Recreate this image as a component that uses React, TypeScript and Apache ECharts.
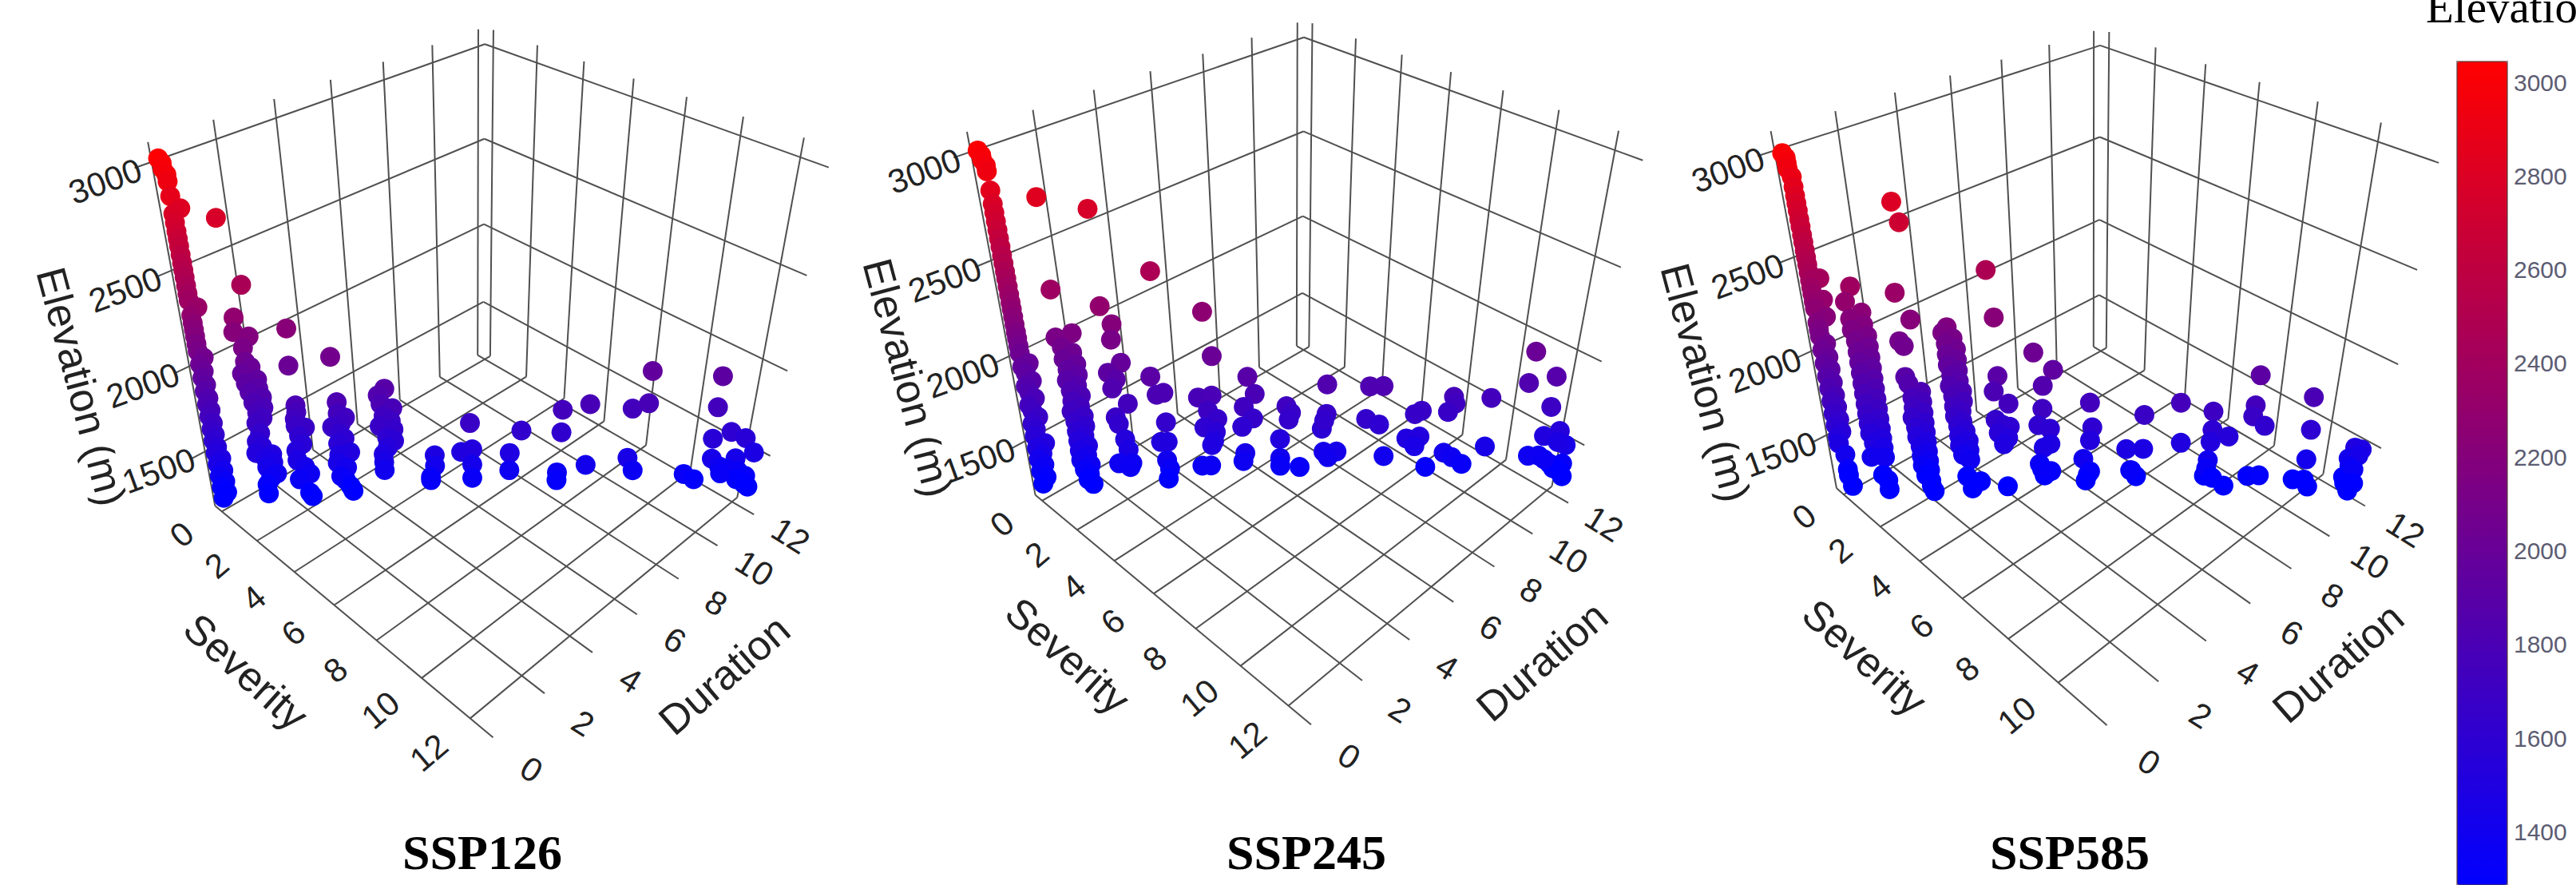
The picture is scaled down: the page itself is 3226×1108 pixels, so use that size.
import React, { useEffect, useRef } from "react";
import * as echarts from "echarts";

type Row = [number, number, number];

const elevationTicks = [1500, 2000, 2500, 3000];
const ssp126SeverityTicks = [0, 2, 4, 6, 8, 10, 12];
const ssp245SeverityTicks = [0, 2, 4, 6, 8, 10, 12];
const ssp585SeverityTicks = [0, 2, 4, 6, 8, 10];
const durationTicks = [0, 2, 4, 6, 8, 10, 12];
const legendTicks = [1400, 1600, 1800, 2000, 2200, 2400, 2600, 2800, 3000];

// [severity, duration, elevation]
const ssp126: Row[] = [
  [0,0,3035],[0.05,0.05,3015],[0.05,0.05,2990],[0.1,0.1,2965],[0.1,0.1,2935],[0.1,0.1,2870],[0.25,0.25,2815],[0.1,0.1,2790],[0.1,0.1,2750],[0.1,0.1,2710],[0.1,0.1,2675],[0.1,0.1,2640],[0.1,0.1,2600],[0.1,0.1,2560],[0.1,0.1,2525],[0.1,0.1,2490],[0.1,0.1,2450],[0.1,0.1,2410],[0.1,0.1,2375],[0.25,0.25,2340],[0.1,0.1,2300],[0.1,0.1,2260],[0.1,0.1,2225],[0.1,0.1,2190],[0.1,0.1,2150],[0.1,0.1,2110],[0.2,0.2,2075],[0.1,0.1,2040],[0.15,0.15,2000],[0.1,0.1,1965],[0.15,0.15,1925],[0.1,0.1,1890],[0.15,0.15,1850],[0.1,0.1,1815],[0.15,0.15,1780],[0.1,0.1,1745],[0.15,0.15,1705],[0.1,0.1,1670],[0.15,0.15,1635],[0.1,0.1,1600],[0.15,0.15,1560],[0.1,0.1,1525],[0.2,0.2,1490],[0.1,0.1,1455],[0.2,0.2,1415],[0.1,0.1,1380],[0.2,0.2,1345],[0.1,0.1,1310],[0.2,0.2,1275],[0.1,0.1,1240],
  [0.9,0.9,2770],
  [1.2,1.2,2450],[0.95,0.95,2285],[0.9,0.9,2210],[1.2,1.2,2185],[1.05,1.05,2125],[1.05,1.05,2050],[1.15,1.15,2020],[0.95,0.95,1985],[1.25,1.25,1950],[1,1,1930],[1.25,1.25,1900],[1.05,1.05,1880],[1.3,1.3,1850],[1.1,1.1,1820],[1.3,1.3,1790],[1.15,1.15,1760],[1.25,1.25,1730],[1.1,1.1,1700],[1.15,1.15,1640],[1.05,1.05,1590],[1.15,1.15,1560],[1,1,1520],[1.35,1.35,1510],[1.2,1.2,1480],[1.35,1.35,1460],[1.2,1.2,1430],[1.4,1.4,1390],[1.25,1.25,1360],[1.15,1.15,1320],[1.15,1.15,1263],
  [2,2,2225],[1.95,1.95,2025],[2,2,1800],[2,2,1760],[1.95,1.95,1720],[2.15,2.15,1670],[1.95,1.95,1680],[2,2,1620],[2.05,2.05,1570],[1.9,1.9,1530],[1.9,1.9,1470],[2.05,2.05,1430],[2.15,2.15,1385],[1.9,1.9,1350],[2.1,2.1,1263],[2.15,2.15,1240],
  [2.85,2.85,2070],[2.9,2.9,1815],[2.9,2.9,1750],[3.05,3.05,1725],[2.95,2.95,1690],[2.75,2.75,1670],[2.9,2.9,1630],[3,3,1600],[2.85,2.85,1570],[3.1,3.1,1515],[2.85,2.85,1500],[2.8,2.8,1450],[3,3,1420],[2.85,2.85,1365],[2.95,2.95,1340],[3.05,3.05,1300],[3.1,3.1,1270],
  [3.95,3.95,1888],[3.8,3.8,1850],[3.85,3.85,1800],[4.1,4.1,1775],[3.9,3.9,1730],[4.05,4.05,1700],[3.8,3.8,1670],[4.1,4.1,1650],[3.95,3.95,1600],[4.1,4.1,1580],[3.95,3.95,1540],[3.85,3.85,1500],[3.85,3.85,1450],[3.85,3.85,1400],
  [5,5,1487],[5,5,1420],[4.9,4.9,1350],[4.9,4.9,1330],
  [5.8,5.8,1680],[5.85,5.85,1520],[5.6,5.6,1505],[5.85,5.85,1425],[5.85,5.85,1340],
  [6.7,6.7,1493],[6.7,6.7,1385],[6.95,6.95,1630],
  [7.85,7.85,1750],[7.85,7.85,1615],[7.8,7.8,1365],[7.8,7.8,1315],
  [8.45,8.45,1780],[8.45,8.45,1410],
  [9.4,9.4,1750],[9.75,9.75,1780],[9.75,9.75,1965],[9.4,9.4,1450],[9.55,9.55,1370],
  [10.75,10.75,1340],[11,11,1305],
  [11.3,11.3,1930],[11.3,11.3,1750],[11.3,11.3,1560],[11.7,11.7,1600],[12.05,12.05,1560],[12.3,12.3,1470],[11.35,11.35,1435],[11.9,11.9,1435],[11.55,11.55,1385],[11.75,11.75,1370],[12,12,1355],[12.2,12.2,1320],[12,12,1300],[12.3,12.3,1250],[11.6,11.6,1340],[12.2,12.2,1270],
];

const ssp245: Row[] = [
  [0,0,3025],[0.05,0.05,3005],[0.05,0.05,2985],[0.1,0.1,2960],[0.1,0.1,2935],[0.1,0.1,2850],[0.1,0.1,2790],[0.1,0.1,2750],[0.1,0.1,2710],[0.1,0.1,2670],[0.1,0.1,2630],[0.1,0.1,2590],[0.1,0.1,2550],[0.1,0.1,2510],[0.1,0.1,2470],[0.1,0.1,2435],[0.1,0.1,2395],[0.1,0.1,2355],[0.1,0.1,2315],[0.1,0.1,2280],[0.1,0.1,2240],[0.1,0.1,2200],[0.1,0.1,2160],[0.1,0.1,2125],[0.1,0.1,2085],[0.1,0.1,2045],[0.25,0.25,1990],[0.1,0.1,1970],[0.15,0.15,1935],[0.25,0.25,1890],[0.1,0.1,1860],[0.15,0.15,1825],[0.25,0.25,1790],[0.1,0.1,1750],[0.15,0.15,1715],[0.25,0.25,1680],[0.1,0.1,1640],[0.15,0.15,1605],[0.1,0.1,1565],[0.3,0.3,1520],[0.1,0.1,1490],[0.2,0.2,1455],[0.1,0.1,1420],[0.2,0.2,1385],[0.1,0.1,1345],[0.2,0.2,1305],[0.1,0.1,1263],
  [0.95,0.95,2378],[0.95,0.95,2820],[1.25,1.25,2150],[0.9,0.9,2128],[1,1,2075],[1.2,1.2,2045],[1,1,2010],[1.25,1.25,1980],[1.05,1.05,1950],[1.25,1.25,1920],[1,1,1890],[1.2,1.2,1860],[1.05,1.05,1830],[1.25,1.25,1800],[1.05,1.05,1770],[1.2,1.2,1740],[1,1,1710],[1.25,1.25,1680],[1.05,1.05,1650],[1.25,1.25,1620],[1.05,1.05,1590],[1.2,1.2,1560],[1.05,1.05,1530],[1.25,1.25,1500],[1.05,1.05,1470],[1.2,1.2,1440],[1.05,1.05,1410],[1.25,1.25,1380],[1.1,1.1,1350],[1.2,1.2,1320],[1.15,1.15,1285],[1.25,1.25,1255],
  [1.9,1.9,2765],[1.9,1.9,2290],[2.1,2.1,2195],[2.05,2.05,2113],[2.2,2.2,1985],[1.9,1.9,1930],[2.05,2.05,1890],[1.95,1.95,1840],[2.25,2.25,1750],[1.95,1.95,1670],[2,2,1630],[2.1,2.1,1535],[2.15,2.15,1470],[1.9,1.9,1385],[2.2,2.2,1385],[2.15,2.15,1360],
  [3,3,2465],[2.8,2.8,1905],[2.9,2.9,1800],[3.05,3.05,1810],[3.05,3.05,1635],[2.9,2.9,1515],[3.05,3.05,1515],[3,3,1400],[3.05,3.05,1345],[3,3,1280],
  [4,4,2255],[4.15,4.15,2015],[3.8,3.8,1780],[4.1,4.1,1790],[4,4,1700],[4.2,4.2,1650],[3.9,3.9,1600],[4.15,4.15,1570],[4.1,4.1,1515],[4.05,4.05,1490],[3.8,3.8,1360],[4,4,1360],
  [4.9,4.9,1895],[5.05,5.05,1795],[4.8,4.8,1720],[5,5,1650],[4.75,4.75,1600],[4.8,4.8,1435],[4.75,4.75,1385],
  [5.75,5.75,1720],[5.85,5.85,1680],[5.8,5.8,1640],[5.6,5.6,1520],[5.6,5.6,1400],[5.6,5.6,1350],[6.05,6.05,1340],
  [6.65,6.65,1845],[6.65,6.65,1670],[6.55,6.55,1580],[6.6,6.6,1630],[6.6,6.6,1435],[6.9,6.9,1435],[6.7,6.7,1400],
  [7.6,7.6,1830],[7.9,7.9,1830],[7.55,7.55,1635],[7.85,7.85,1600],[8,8,1400],
  [8.8,8.8,1680],[8.65,8.65,1660],[8.5,8.5,1510],[8.8,8.8,1520],[8.7,8.7,1460],[9,9,1325],
  [9.5,9.5,1760],[9.55,9.55,1720],[9.4,9.4,1670],[9.4,9.4,1415],[9.6,9.6,1385],[9.85,9.85,1340],
  [10.35,10.35,1750],[10.35,10.35,1450],
  [11.2,11.2,2015],[11.15,11.15,1835],[11.75,11.75,1870],[11.75,11.75,1690],[11.7,11.7,1510],[12.05,12.05,1540],[12.25,12.25,1450],[12.05,12.05,1470],[11.4,11.4,1385],[11.65,11.65,1385],[11.95,11.95,1330],[12.25,12.25,1330],[12.05,12.05,1300],[12.3,12.3,1245],[12.2,12.2,1280],[11.8,11.8,1360],
];

const ssp585: Row[] = [
  [0,0,3010],[0.05,0.05,2990],[0.05,0.05,2965],[0.05,0.05,2940],[0.1,0.1,2905],[0.1,0.1,2860],[0.1,0.1,2820],[0.1,0.1,2785],[0.1,0.1,2750],[0.1,0.1,2710],[0.1,0.1,2675],[0.1,0.1,2635],[0.1,0.1,2600],[0.1,0.1,2560],[0.1,0.1,2525],[0.1,0.1,2490],[0.1,0.1,2450],[0.28,0.3,2420],[0.1,0.1,2410],[0.1,0.1,2375],[0.1,0.1,2340],[0.28,0.3,2310],[0.1,0.1,2300],[0.1,0.1,2265],[0.28,0.3,2220],[0.1,0.1,2190],[0.1,0.1,2150],[0.1,0.1,2115],[0.2,0.2,2075],[0.1,0.1,2040],[0.2,0.2,2000],[0.1,0.1,1965],[0.2,0.2,1930],[0.1,0.1,1890],[0.2,0.2,1855],[0.1,0.1,1820],[0.2,0.2,1780],[0.1,0.1,1745],[0.2,0.2,1710],[0.1,0.1,1670],[0.2,0.2,1635],[0.1,0.1,1600],[0.2,0.2,1560],[0.1,0.1,1525],[0.1,0.1,1485],[0.2,0.2,1415],[0.2,0.2,1320],[0.2,0.2,1280],[0.25,0.25,1210],
  [0.85,0.9,2380],[0.7,0.75,2300],[1,1.05,2245],[0.75,0.8,2210],[1,1.05,2180],[0.75,0.8,2150],[1.05,1.1,2120],[0.8,0.85,2090],[1.05,1.1,2060],[0.8,0.85,2030],[1.05,1.1,2000],[0.8,0.85,1970],[1.05,1.1,1940],[0.8,0.85,1910],[1.05,1.1,1880],[0.8,0.85,1850],[1.05,1.1,1820],[0.8,0.85,1790],[1.05,1.1,1760],[0.8,0.85,1730],[1.05,1.1,1700],[0.8,0.85,1670],[1.05,1.1,1640],[0.8,0.85,1610],[1.05,1.1,1580],[0.8,0.85,1550],[1.05,1.1,1520],[0.85,0.9,1490],[1.05,1.1,1460],[0.75,0.8,1400],[1.05,1.1,1400],[0.95,1,1285],[1.05,1.1,1250],[1.05,1.1,1190],
  [1.85,1.95,2796],[1.95,2.05,2700],[1.7,1.8,2350],[1.95,2.05,2210],[1.7,1.75,2095],[1.75,1.85,2065],[1.7,1.8,1890],[2,2.1,1805],[1.75,1.85,1850],[1.8,1.9,1770],[2,2.1,1745],[1.8,1.9,1710],[2,2.1,1680],[1.75,1.85,1650],[2,2.1,1620],[1.8,1.9,1590],[2,2.1,1560],[1.8,1.9,1530],[2,2.1,1500],[1.85,1.95,1470],[2,2.1,1440],[1.85,1.95,1410],[2,2.1,1380],[1.85,1.95,1350],[2,2.1,1320],[1.9,2,1285],[2,2.1,1250],[2,2.1,1215],[2.05,2.15,1180],
  [3.5,3.7,2470],[3.6,3.8,2225],[2.65,2.8,2170],[2.55,2.7,2140],[2.75,2.9,2110],[2.6,2.75,2080],[2.8,2.95,2050],[2.6,2.75,2020],[2.8,2.95,1990],[2.6,2.75,1960],[2.8,2.95,1930],[2.65,2.8,1900],[2.8,2.95,1870],[2.6,2.75,1840],[2.85,3,1810],[2.65,2.8,1780],[2.85,3,1750],[2.65,2.8,1720],[2.8,2.95,1690],[2.65,2.8,1660],[2.8,2.95,1630],[2.7,2.85,1600],[2.85,3,1570],[2.7,2.85,1540],[2.9,3.05,1510],[2.7,2.85,1480],[2.9,3.05,1450],[2.75,2.9,1420],[2.9,3.05,1390],
  [2.8,2.95,1280],[3.1,3.25,1250],[2.9,3.05,1200],
  [4.35,4.6,2035],[4.75,5,1940],[4.55,4.75,1850],
  [3.6,3.8,1900],[3.5,3.7,1810],[3.8,4,1740],[3.5,3.7,1640],[3.65,3.85,1610],[3.8,4,1600],[3.55,3.75,1560],[3.75,3.95,1530],[3.65,3.85,1490],[3.7,3.86,1220],
  [4.5,4.75,1710],[4.4,4.65,1610],[4.65,4.9,1590],[4.65,4.9,1495],[4.5,4.75,1470],[4.4,4.65,1365],[4.5,4.75,1290],[4.65,4.9,1320],[4.45,4.7,1330],
  [5.5,5.8,1750],[5.55,5.85,1600],[5.5,5.8,1520],[5.35,5.65,1400],[5.45,5.75,1300],[5.5,5.8,1320],[5.4,5.7,1260],
  [6.65,7,1680],[6.65,7,1470],[6.3,6.6,1470],[6.4,6.75,1330],[6.5,6.87,1290],[6.4,6.7,1335],
  [7.4,7.8,1755],[7.45,7.85,1510],
  [8.1,8.52,1705],[8.1,8.55,1590],[8.45,8.93,1550],[8.1,8.5,1520],[8.05,8.5,1400],[8,8.43,1300],[8.45,8.9,1235],[8.05,8.45,1350],[8.2,8.6,1290],
  [9,9.48,1920],[8.95,9.47,1740],[8.95,9.4,1680],[9.2,9.7,1620],[8.95,9.44,1300],[9.2,9.7,1305],
  [10.15,10.7,1795],[10.2,10.73,1600],[10.2,10.72,1415],[9.95,10.5,1280],[10.3,10.85,1235],[10.2,10.75,1280],
  [11.2,11.8,1490],[11.35,11.95,1480],[11.1,11.7,1420],[11.3,11.9,1440],[11.15,11.75,1370],[11.05,11.65,1300],[11.25,11.85,1350],[11.3,11.9,1260],[11.1,11.7,1260],[11.2,11.8,1210],
];

// screen calibration of each panel: [severity, duration, elevation, pixelX, pixelY]
const camera126: number[][] = [
  [-0.4,0,1150,270,638],[-0.4,12.3,1150,606,438],[12.9,12.3,1150,948,640],[12.9,0,1150,620,922],[12,0,1150,586,898],
  [-0.4,0,3000,190,203],[-0.4,12.3,3000,606,57],[12.9,12.3,3000,1038,208],
  [-0.4,12.3,2500,606,175],[-0.4,12.3,2000,606,281],[-0.4,12.3,1500,606,376],
  [-0.4,0,2500,215,337],[-0.4,0,2000,237,456],[-0.4,0,1500,256,566],
  [12.9,12.3,2500,1011,345],[12.9,12.3,2000,988,465],[12.9,12.3,1500,965,572],
];
const camera245: number[][] = [
  [-0.4,0,1150,1297,625],[-0.4,12.3,1150,1633,428],[12.9,12.3,1150,1968,620],[12.9,0,1150,1645,906],[12,0,1150,1609,883],
  [-0.4,0,3000,1217,190],[-0.4,12.3,3000,1631,48],[12.9,12.3,3000,2058,199],
  [-0.4,12.3,2500,1631,165],[-0.4,12.3,2000,1631,271],[-0.4,12.3,1500,1631,365],
  [-0.4,0,2500,1242,324],[-0.4,0,2000,1264,443],[-0.4,0,1500,1283,553],
  [12.9,12.3,2500,2031,336],[12.9,12.3,2000,2006,454],[12.9,12.3,1500,1986,562],
];
const camera585: number[][] = [
  [-0.4,0,1150,2301,613],[-0.4,12.3,1150,2629,432],[11.8,12.3,1150,2967,622],[11.8,0,1150,2643,906],[10,0,1150,2571,859],
  [-0.4,0,3000,2223,191],[-0.4,12.3,3000,2629,55],[11.8,12.3,3000,3054,205],
  [-0.4,12.3,2500,2629,170],[-0.4,12.3,2000,2629,276],[-0.4,12.3,1500,2629,371],
  [-0.4,0,2500,2247,321],[-0.4,0,2000,2269,436],[-0.4,0,1500,2287,543],
  [11.8,12.3,2500,3027,339],[11.8,12.3,2000,3004,458],[11.8,12.3,1500,2984,562],
];

function fitCamera(points: number[][]) {
  const A: number[][] = Array.from({ length: 11 }, () => new Array(12).fill(0));
  const add = (r: number[], b: number) => {
    for (let i = 0; i < 11; i++) {
      for (let j = 0; j < 11; j++) A[i][j] += r[i] * r[j];
      A[i][11] += r[i] * b;
    }
  };
  for (const [s, d, e, u0, v0] of points) {
    const X = s / 12, Y = d / 12, Z = (e - 1150) / 1850, u = u0 / 1000, v = v0 / 1000;
    add([X, Y, Z, 1, 0, 0, 0, 0, -u * X, -u * Y, -u * Z], u);
    add([0, 0, 0, 0, X, Y, Z, 1, -v * X, -v * Y, -v * Z], v);
  }
  for (let c = 0; c < 11; c++) {
    let p = c;
    for (let r = c + 1; r < 11; r++) if (Math.abs(A[r][c]) > Math.abs(A[p][c])) p = r;
    [A[c], A[p]] = [A[p], A[c]];
    for (let r = 0; r < 11; r++) {
      if (r === c) continue;
      const f = A[r][c] / A[c][c];
      for (let k = c; k < 12; k++) A[r][k] -= f * A[c][k];
    }
  }
  const m = A.map((row, i) => row[11] / row[i]);
  return (s: number, d: number, e: number): [number, number] => {
    const X = s / 12, Y = d / 12, Z = (e - 1150) / 1850;
    const w = m[8] * X + m[9] * Y + m[10] * Z + 1;
    return [
      (1000 * (m[0] * X + m[1] * Y + m[2] * Z + m[3])) / w,
      (1000 * (m[4] * X + m[5] * Y + m[6] * Z + m[7])) / w,
    ];
  };
}

type Label = { x: number; y: number; text: string; rot: number; font: string; fill: string; align: string };

const TICK = '42px "Liberation Sans"';
const TITLE = '52px "Liberation Sans"';
const HEAD = 'bold 62px "Liberation Serif"';
const deg = (a: number) => (a * Math.PI) / 180;

const panels = [
  { name: "SSP126", rows: ssp126, cam: camera126, sevTicks: ssp126SeverityTicks, sMax: 12.9, titleX: 604, elev: [102, 484], sevT: [308, 841], durT: [907, 845] },
  { name: "SSP245", rows: ssp245, cam: camera245, sevTicks: ssp245SeverityTicks, sMax: 12.9, titleX: 1636, elev: [1137, 473], sevT: [1337, 821], durT: [1931, 828] },
  { name: "SSP585", rows: ssp585, cam: camera585, sevTicks: ssp585SeverityTicks, sMax: 11.8, titleX: 2592, elev: [2136, 479], sevT: [2335, 823], durT: [2928, 830] },
];

function buildOption() {
  const segs: number[][] = [];
  const labels: Label[] = [];
  const scatter: any[] = [];
  const sMin = -0.4, dMax = 12.3, eFloor = 1150, eTop = 3085;
  const T = (x: number, y: number, text: string, rot: number, font = TICK, fill = "#222", align = "center") =>
    labels.push({ x, y, text, rot, font, fill, align });

  for (const p of panels) {
    const P = fitCamera(p.cam);
    const seg = (a: [number, number], b: [number, number]) => segs.push([a[0], a[1], b[0], b[1]]);
    for (const d of durationTicks) {
      seg(P(sMin, d, eFloor), P(p.sMax, d, eFloor));
      seg(P(sMin, d, eFloor), P(sMin, d, eTop));
      T(...P(p.sMax + 1.45, d, eFloor), String(d), -32);
    }
    for (const s of p.sevTicks) {
      seg(P(s, 0, eFloor), P(s, dMax, eFloor));
      seg(P(s, dMax, eFloor), P(s, dMax, eTop));
      T(...P(s, -1.5, eFloor), String(s), 40);
    }
    for (const e of elevationTicks) {
      seg(P(sMin, -0.5, e), P(sMin, dMax, e));
      seg(P(sMin, dMax, e), P(p.sMax, dMax, e));
      const [x, y] = P(sMin, 0, e);
      T(x - 58, y + 24, String(e), 20);
    }
    T(p.elev[0], p.elev[1], "Elevation (m)", -75, TITLE);
    T(p.sevT[0], p.sevT[1], "Severity", -42, TITLE);
    T(p.durT[0], p.durT[1], "Duration", 41, TITLE);
    T(p.titleX, 1067, p.name, 0, HEAD, "#000");
    scatter.push({
      type: "scatter",
      name: p.name,
      xAxisIndex: 0,
      yAxisIndex: 0,
      symbolSize: 25,
      silent: true,
      z: 5,
      itemStyle: { opacity: 1 },
      data: p.rows.map(([s, d, e]) => [...P(s, d, e), e]),
      encode: { x: 0, y: 1 },
    });
  }
  T(3038, 8, "Elevation", 0, '57px "Liberation Serif"', "#000", "left");

  return {
    animation: false,
    backgroundColor: "#fff",
    grid: [
      { left: 0, top: 0, width: 3226, height: 1108, outerBoundsMode: "none" },
      { left: 3077, width: 63, top: -14.3, height: 1173, outerBoundsMode: "none" },
    ],
    xAxis: [
      { type: "value", min: 0, max: 3226, show: false, gridIndex: 0 },
      { type: "value", min: 0, max: 1, show: false, gridIndex: 1 },
    ],
    yAxis: [
      { type: "value", min: 0, max: 1108, inverse: true, show: false, gridIndex: 0 },
      {
        type: "value", gridIndex: 1, position: "right", min: 1200, max: 3200, interval: 200,
        axisLine: { show: false }, axisTick: { show: false }, splitLine: { show: false },
        axisLabel: {
          margin: 8, color: "#5c5c72", fontSize: 30, fontFamily: "Liberation Sans",
          formatter: (v: number) => (legendTicks.includes(v) ? String(v) : ""),
        },
      },
    ],
    visualMap: {
      type: "continuous", show: true, min: 1286, max: 3044, dimension: 2, seriesIndex: [2, 3, 4],
      left: 3077, top: 77, itemWidth: 63, itemHeight: 1031, padding: 0, text: undefined,
      calculable: false, hoverLink: false, inRange: { color: ["#0000ff", "#ff0000"] },
    },
    graphic: [{ type: "rect", shape: { x: 3077, y: 77, width: 63, height: 1031 }, style: { fill: "none", stroke: "rgba(90,60,60,0.6)", lineWidth: 2 }, silent: true, z: 10 }],
    series: [
      {
        type: "custom", xAxisIndex: 0, yAxisIndex: 0, silent: true, z: 1, clip: false,
        data: segs, encode: { x: 0, y: 1 },
        renderItem: (_: any, api: any) => {
          const a = api.coord([api.value(0), api.value(1)]);
          const b = api.coord([api.value(2), api.value(3)]);
          return { type: "line", shape: { x1: a[0], y1: a[1], x2: b[0], y2: b[1] }, style: { stroke: "#505050", lineWidth: 2 } };
        },
      },
      {
        type: "custom", xAxisIndex: 0, yAxisIndex: 0, silent: true, z: 6, clip: false,
        data: labels.map((l) => [l.x, l.y]), encode: { x: 0, y: 1 },
        renderItem: (params: any, api: any) => {
          const l = labels[params.dataIndex];
          const c = api.coord([l.x, l.y]);
          return {
            type: "text", x: c[0], y: c[1], rotation: deg(l.rot),
            style: { text: l.text, font: l.font, fill: l.fill, align: l.align, verticalAlign: "middle" },
          };
        },
      },
      ...scatter,
    ],
  };
}

export default function App() {
  const ref = useRef<HTMLDivElement>(null);
  useEffect(() => {
    const chart = echarts.init(ref.current!, undefined, { renderer: "svg" });
    chart.setOption(buildOption() as any);
    return () => chart.dispose();
  }, []);
  return <div ref={ref} style={{ position: "absolute", left: 0, top: 0, width: 3226, height: 1108 }} />;
}
